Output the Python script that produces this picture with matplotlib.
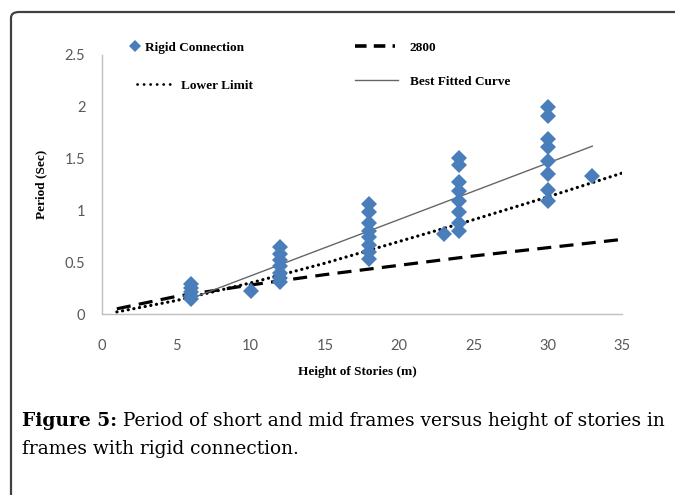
import matplotlib
matplotlib.use("Agg")
import matplotlib.pyplot as plt
from matplotlib.lines import Line2D
from matplotlib.patches import FancyBboxPatch

# ---- data ----
rigid_x = [6, 6, 6, 6, 6,
           10,
           12, 12, 12, 12, 12, 12, 12,
           18, 18, 18, 18, 18, 18, 18, 18,
           23,
           24, 24, 24, 24, 24, 24, 24, 24,
           30, 30, 30, 30, 30, 30, 30, 30,
           33]
rigid_y = [0.29, 0.25, 0.21, 0.17, 0.14,
           0.22,
           0.65, 0.58, 0.52, 0.46, 0.40, 0.35, 0.31,
           1.06, 0.98, 0.88, 0.80, 0.74, 0.67, 0.60, 0.53,
           0.77,
           1.51, 1.44, 1.27, 1.19, 1.09, 0.98, 0.88, 0.80,
           2.00, 1.91, 1.69, 1.61, 1.48, 1.35, 1.20, 1.09,
           1.33]

code_x = [1, 5, 10, 15, 20, 25, 30, 35]
code_y = [0.05, 0.17, 0.28, 0.38, 0.47, 0.56, 0.64, 0.72]

lower_x = [1, 5, 10, 15, 20, 25, 30, 35]
lower_y = [0.02, 0.13, 0.30, 0.49, 0.70, 0.91, 1.13, 1.36]

fit_x = [6, 33]
fit_y = [0.15, 1.62]

xticks = [0, 5, 10, 15, 20, 25, 30, 35]
yticks = [0, 0.5, 1, 1.5, 2, 2.5]
ytick_labels = ["0", "0.5", "1", "1.5", "2", "2.5"]

W, H = 675, 495
fig = plt.figure(figsize=(W / 100, H / 100), dpi=100)

def fx(px):
    return px / W

def fy(py):
    return 1 - py / H

# outer rounded frame
frame = FancyBboxPatch((fx(11), fy(560)), fx(800), 560 / H - 12 / H,
                       boxstyle="round,pad=0,rounding_size=0.012",
                       transform=fig.transFigure, fill=False,
                       edgecolor="#404040", linewidth=1.6, clip_on=False)
fig.patches.append(frame)

ax = fig.add_axes([fx(102), fy(314), fx(622) - fx(102), fy(55) - fy(314)])
ax.set_xlim(0, 35)
ax.set_ylim(0, 2.5)

blue = "#4A7EBB"
ax.plot(code_x, code_y, color="black", lw=2.3, linestyle=(0, (4.4, 2.6)),
        label="2800", zorder=2)
ax.plot(lower_x, lower_y, color="black", lw=2.3, linestyle=(0, (0.05, 1.75)),
        dash_capstyle="round", label="Lower Limit", zorder=2)
ax.plot(fit_x, fit_y, color="#666666", lw=1.0, label="Best Fitted Curve", zorder=3)
ax.plot(rigid_x, rigid_y, linestyle="none", marker="D", markersize=8.3,
        color=blue, markeredgewidth=0, label="Rigid Connection", zorder=4)

for s in ["top", "right"]:
    ax.spines[s].set_visible(False)
for s in ["left", "bottom"]:
    ax.spines[s].set_color("#BFBFBF")
    ax.spines[s].set_linewidth(1.0)

tick_font = dict(family="Lato", size=10.5, color="#595959")
ax.set_xticks(xticks)
ax.set_xticklabels([str(t) for t in xticks], **tick_font)
ax.set_yticks(yticks)
ax.set_yticklabels(ytick_labels, **tick_font)
ax.tick_params(axis="both", length=0)
ax.tick_params(axis="x", pad=18)
ax.tick_params(axis="y", pad=12)

lab_font = dict(family="Liberation Serif", weight="bold", size=9.5, color="black")
ax.set_xlabel("Height of Stories (m)", va="center", ha="center", **lab_font)
ax.xaxis.set_label_coords((357 - 102) / 520, -(372 - 314) / 259)
ax.set_ylabel("Period (Sec)", va="center", ha="center", **lab_font)
ax.yaxis.set_label_coords((41 - 102) / 520, 0.5)

# legend entries
fs = 9.5
fs_px = fs * 100 / 72
leg_font = {"family": "Liberation Serif", "weight": "bold", "size": fs}
entries = [
    (Line2D([], [], linestyle="none", marker="D", markersize=6, color=blue, markeredgewidth=0),
     "Rigid Connection", 128, 48, 14, 3),
    (Line2D([], [], color="black", lw=2.6, linestyle=(0, (3.2, 2.0))),
     "2800", 355, 48, 40, 15),
    (Line2D([], [], color="black", lw=2.0, linestyle=(0, (0.05, 2.3)), dash_capstyle="round"),
     "Lower Limit", 137, 86, 38, 6),
    (Line2D([], [], color="#666666", lw=1.0),
     "Best Fitted Curve", 355, 82, 43, 12),
]
for h, lab, x0, yc, hl, tp in entries:
    lg = fig.legend([h], [lab], loc="center left", bbox_to_anchor=(fx(x0), fy(yc)),
                    bbox_transform=fig.transFigure, frameon=False, borderpad=0,
                    borderaxespad=0, handlelength=hl / fs_px, handletextpad=tp / fs_px,
                    prop=leg_font, numpoints=1)

# caption
cap_font = dict(family="DejaVu Serif", size=13.4, color="black")
t1 = fig.text(fx(22), fy(421), "Figure 5:", weight="bold", va="center", ha="left", **cap_font)
ann = ax.annotate(" Period of short and mid frames versus height of stories in",
                  xy=(1, 0), xycoords=t1, va="bottom", ha="left", **cap_font)
fig.text(fx(22), fy(449), "frames with rigid connection.", va="center", ha="left", **cap_font)

fig.savefig("out.png", dpi=100)
